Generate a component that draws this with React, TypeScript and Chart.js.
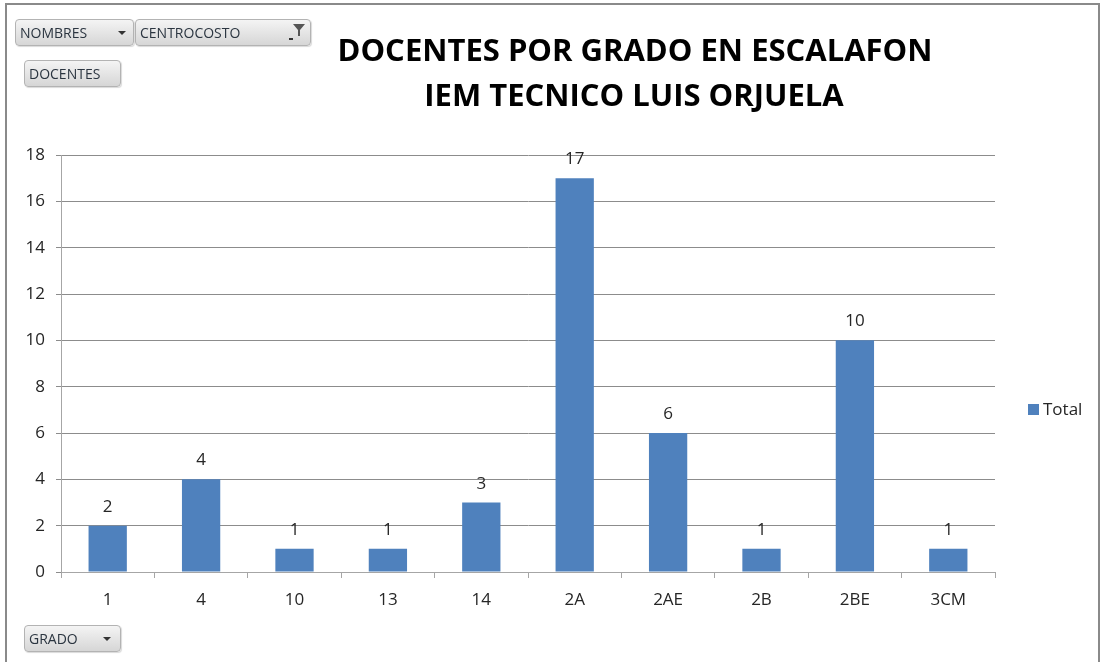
import React, { useEffect, useRef } from "react";
import { Chart, registerables } from "chart.js";

Chart.register(...registerables);

const categories = ["1", "4", "10", "13", "14", "2A", "2AE", "2B", "2BE", "3CM"];
const totals = [2, 4, 1, 1, 3, 17, 6, 1, 10, 1];
const seriesName = "Total";
const titleLines = ["DOCENTES POR GRADO EN ESCALAFON", "IEM TECNICO LUIS ORJUELA"];
const yMax = 18;
const yStep = 2;

const BAR = "#4F81BD";
const TXT = "#262626";

const valueLabels = {
  id: "valueLabels",
  afterDatasetsDraw(chart: any) {
    const ctx = chart.ctx;
    const meta = chart.getDatasetMeta(0);
    ctx.save();
    ctx.font = "17px 'Open Sans'";
    ctx.fillStyle = TXT;
    ctx.textAlign = "center";
    ctx.textBaseline = "alphabetic";
    meta.data.forEach((el: any, i: number) => {
      ctx.fillText(String(totals[i]), el.x, el.y - 14);
    });
    ctx.restore();
  },
};

const titlePlugin = {
  id: "titlePlugin",
  afterDraw(chart: any) {
    const ctx = chart.ctx;
    ctx.save();
    ctx.font = "bold 31px 'Open Sans'";
    ctx.fillStyle = "#000";
    ctx.textAlign = "center";
    ctx.textBaseline = "middle";
    ctx.fillText(titleLines[0], 635, 52);
    ctx.fillText(titleLines[1], 634, 97);
    ctx.restore();
  },
};

const legendPlugin = {
  id: "legendPlugin",
  afterDraw(chart: any) {
    const ctx = chart.ctx;
    ctx.save();
    ctx.fillStyle = BAR;
    ctx.fillRect(1028, 404, 11, 11);
    ctx.font = "17px 'Open Sans'";
    ctx.fillStyle = TXT;
    ctx.textAlign = "left";
    ctx.textBaseline = "middle";
    ctx.fillText(chart.data.datasets[0].label, 1043, 410);
    ctx.restore();
  },
};

const btnStyle = (left: number, top: number, width: number): React.CSSProperties => ({
  position: "absolute",
  left,
  top,
  width,
  height: 27,
  boxSizing: "border-box",
  border: "1px solid #b3b3b3",
  borderRadius: 4,
  background: "linear-gradient(#f4f4f4, #d6d6d6)",
  boxShadow: "1px 1px 1px rgba(0,0,0,0.15)",
  fontFamily: "'Open Sans', sans-serif",
  fontSize: 14,
  color: "#2b3540",
  lineHeight: "25px",
  paddingLeft: 4,
  whiteSpace: "nowrap",
});

const Arrow = ({ right }: { right: number }) => (
  <svg style={{ position: "absolute", right, top: 11 }} width="8" height="5">
    <polygon points="0,0 8,0 4,4" fill="#333" />
  </svg>
);

export default function App() {
  const ref = useRef<HTMLCanvasElement>(null);
  useEffect(() => {
    const chart = new Chart(ref.current!, {
      type: "bar",
      data: {
        labels: categories,
        datasets: [
          {
            label: seriesName,
            data: totals,
            backgroundColor: BAR,
            barPercentage: 0.41,
            categoryPercentage: 1,
          },
        ],
      },
      options: {
        animation: false,
        responsive: false,
        layout: { padding: { left: 0, right: 107, top: 155, bottom: 50 } },
        plugins: { legend: { display: false }, title: { display: false }, tooltip: { enabled: false } },
        scales: {
          x: {
            afterFit: (s: any) => {
              s.height = 40;
            },
            grid: { drawOnChartArea: false, tickLength: 6, color: "#a6a6a6", offset: true },
            border: { color: "#a6a6a6" },
            ticks: { color: TXT, font: { family: "'Open Sans'", size: 17 }, padding: 12 },
          },
          y: {
            min: 0,
            max: yMax,
            afterFit: (s: any) => {
              s.width = 61;
            },
            grid: { color: "#8c8c8c", tickLength: 5 },
            border: { color: "#a6a6a6" },
            ticks: { stepSize: yStep, color: TXT, font: { family: "'Open Sans'", size: 17 }, padding: 11 },
          },
        },
      },
      plugins: [valueLabels, titlePlugin, legendPlugin],
    });
    return () => chart.destroy();
  }, []);

  return (
    <div style={{ position: "fixed", left: 0, top: 0, width: 1102, height: 662, background: "#fff", overflow: "hidden" }}>
      <div
        style={{
          position: "absolute",
          left: 5,
          top: 3,
          width: 1095,
          height: 720,
          border: "2px solid #8a8a8a",
          boxSizing: "border-box",
        }}
      />
      <canvas ref={ref} width={1102} height={662} style={{ position: "absolute", left: 0, top: 0 }} />
      <div style={btnStyle(15, 19, 119)}>
        NOMBRES
        <Arrow right={7} />
      </div>
      <div style={btnStyle(135, 19, 176)}>
        CENTROCOSTO
        <svg style={{ position: "absolute", right: 4, top: 3 }} width="18" height="18">
          <polygon points="5,1 17,1 12,7 12,13 10,13 10,7" fill="#555" />
          <rect x="1" y="15" width="4" height="2" fill="#333" />
        </svg>
      </div>
      <div style={btnStyle(24, 60, 97)}>DOCENTES</div>
      <div style={btnStyle(24, 625, 97)}>
        GRADO
        <Arrow right={9} />
      </div>
    </div>
  );
}
